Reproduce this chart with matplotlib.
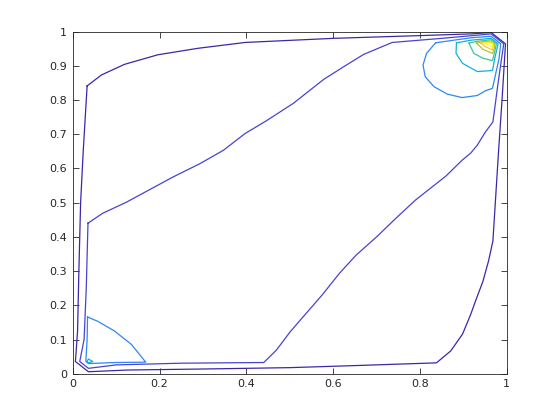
import matplotlib
matplotlib.use("Agg")
import numpy as np
import matplotlib.pyplot as plt
from matplotlib.colors import ListedColormap, Normalize

# contour levels (index) and a parula-like colour table
levels = [1, 2, 3, 4, 5, 6, 7, 8]
parula8 = ["#3e26a8", "#4843cf", "#2d87f7", "#11b1d6",
           "#37c897", "#abc739", "#fec338", "#f9fb14"]

# level 1 (outermost, hugs the square)
l1_x = [0.033, 0.066, 0.119, 0.196, 0.289, 0.397, 0.60, 0.80, 0.917, 0.964,
        0.997, 0.989, 0.981, 0.968, 0.958, 0.945, 0.928, 0.917, 0.898, 0.871,
        0.838, 0.65, 0.50, 0.30, 0.125, 0.036, 0.006, 0.011, 0.014, 0.018,
        0.024, 0.033]
l1_y = [0.841, 0.873, 0.904, 0.932, 0.951, 0.968, 0.980, 0.988, 0.993, 0.997,
        0.964, 0.80, 0.65, 0.388, 0.33, 0.27, 0.213, 0.174, 0.116, 0.067,
        0.032, 0.024, 0.018, 0.014, 0.011, 0.006, 0.036, 0.125, 0.30, 0.50,
        0.65, 0.841]

# level 2 (the two diagonal branches)
l2_x = [0.035, 0.069, 0.123, 0.231, 0.293, 0.347, 0.397, 0.447, 0.508, 0.578,
        0.624, 0.670, 0.736, 0.85, 0.93, 0.964, 0.993, 0.989, 0.980, 0.968,
        0.951, 0.932, 0.917, 0.897, 0.860, 0.790, 0.745, 0.700, 0.653, 0.614,
        0.575, 0.501, 0.469, 0.440, 0.25, 0.10, 0.036, 0.016, 0.026, 0.031,
        0.035]
l2_y = [0.440, 0.469, 0.501, 0.575, 0.614, 0.653, 0.702, 0.740, 0.790, 0.860,
        0.897, 0.933, 0.968, 0.980, 0.989, 0.993, 0.964, 0.93, 0.85, 0.736,
        0.707, 0.668, 0.645, 0.624, 0.578, 0.508, 0.455, 0.400, 0.347, 0.293,
        0.231, 0.123, 0.069, 0.033, 0.031, 0.026, 0.016, 0.036, 0.10, 0.25,
        0.440]

# level 3: lower-left loop and large upper-right loop
l3a_x = [0.034, 0.058, 0.096, 0.135, 0.168, 0.10, 0.036, 0.030, 0.033, 0.034]
l3a_y = [0.166, 0.153, 0.125, 0.086, 0.034, 0.033, 0.030, 0.036, 0.10, 0.166]
l3b_x = [0.836, 0.815, 0.807, 0.812, 0.832, 0.863, 0.897, 0.932, 0.951, 0.967,
         0.975, 0.982, 0.986, 0.964, 0.92, 0.88, 0.836]
l3b_y = [0.967, 0.936, 0.902, 0.868, 0.839, 0.817, 0.807, 0.813, 0.827, 0.834,
         0.88, 0.92, 0.964, 0.986, 0.982, 0.975, 0.967]

# level 4: tiny lower-left loop and upper-right loop
l4a_x = [0.033, 0.036, 0.046, 0.036, 0.033]
l4a_y = [0.036, 0.043, 0.036, 0.032, 0.036]
l4b_x = [0.884, 0.883, 0.898, 0.932, 0.967, 0.972, 0.980, 0.964, 0.92, 0.884]
l4b_y = [0.967, 0.936, 0.907, 0.883, 0.886, 0.92, 0.964, 0.980, 0.975, 0.967]

# levels 5-8 around the upper-right peak
l5_x = [0.913, 0.924, 0.945, 0.967, 0.972, 0.976, 0.964, 0.93, 0.913]
l5_y = [0.966, 0.936, 0.922, 0.915, 0.94, 0.964, 0.976, 0.971, 0.966]
l6_x = [0.930, 0.945, 0.967, 0.971, 0.972, 0.964, 0.945, 0.930]
l6_y = [0.966, 0.948, 0.936, 0.950, 0.964, 0.972, 0.970, 0.966]
l7_x = [0.940, 0.952, 0.967, 0.969, 0.964, 0.950, 0.940]
l7_y = [0.966, 0.955, 0.946, 0.964, 0.969, 0.968, 0.966]
l8_x = [0.948, 0.958, 0.967, 0.967, 0.958, 0.948]
l8_y = [0.966, 0.960, 0.955, 0.965, 0.967, 0.966]

lines = [(1, l1_x, l1_y), (2, l2_x, l2_y), (3, l3a_x, l3a_y), (3, l3b_x, l3b_y),
         (4, l4a_x, l4a_y), (4, l4b_x, l4b_y), (5, l5_x, l5_y), (6, l6_x, l6_y),
         (7, l7_x, l7_y), (8, l8_x, l8_y)]

cmap = ListedColormap(parula8)
norm = Normalize(vmin=min(levels), vmax=max(levels))

fig = plt.figure(figsize=(5.6, 4.2), dpi=100)
ax = fig.add_axes([0.13, 0.11, 0.775, 0.815])

for lev, xs, ys in lines:
    ax.plot(xs, ys, color=cmap(norm(lev)), lw=0.9)

ax.set_xlim(0, 1)
ax.set_ylim(0, 1)
ax.set_xticks(np.arange(0, 1.01, 0.2))
ax.set_yticks(np.arange(0, 1.01, 0.1))
ax.set_xticklabels(["0", "0.2", "0.4", "0.6", "0.8", "1"])
ax.set_yticklabels(["0", "0.1", "0.2", "0.3", "0.4", "0.5", "0.6", "0.7", "0.8", "0.9", "1"])
ax.tick_params(direction="in", top=True, right=True, length=4, width=0.6,
               labelsize=8, pad=4, colors="#262626")
for s in ax.spines.values():
    s.set_linewidth(0.6)
    s.set_color("#262626")

fig.savefig("out.png", dpi=100)
